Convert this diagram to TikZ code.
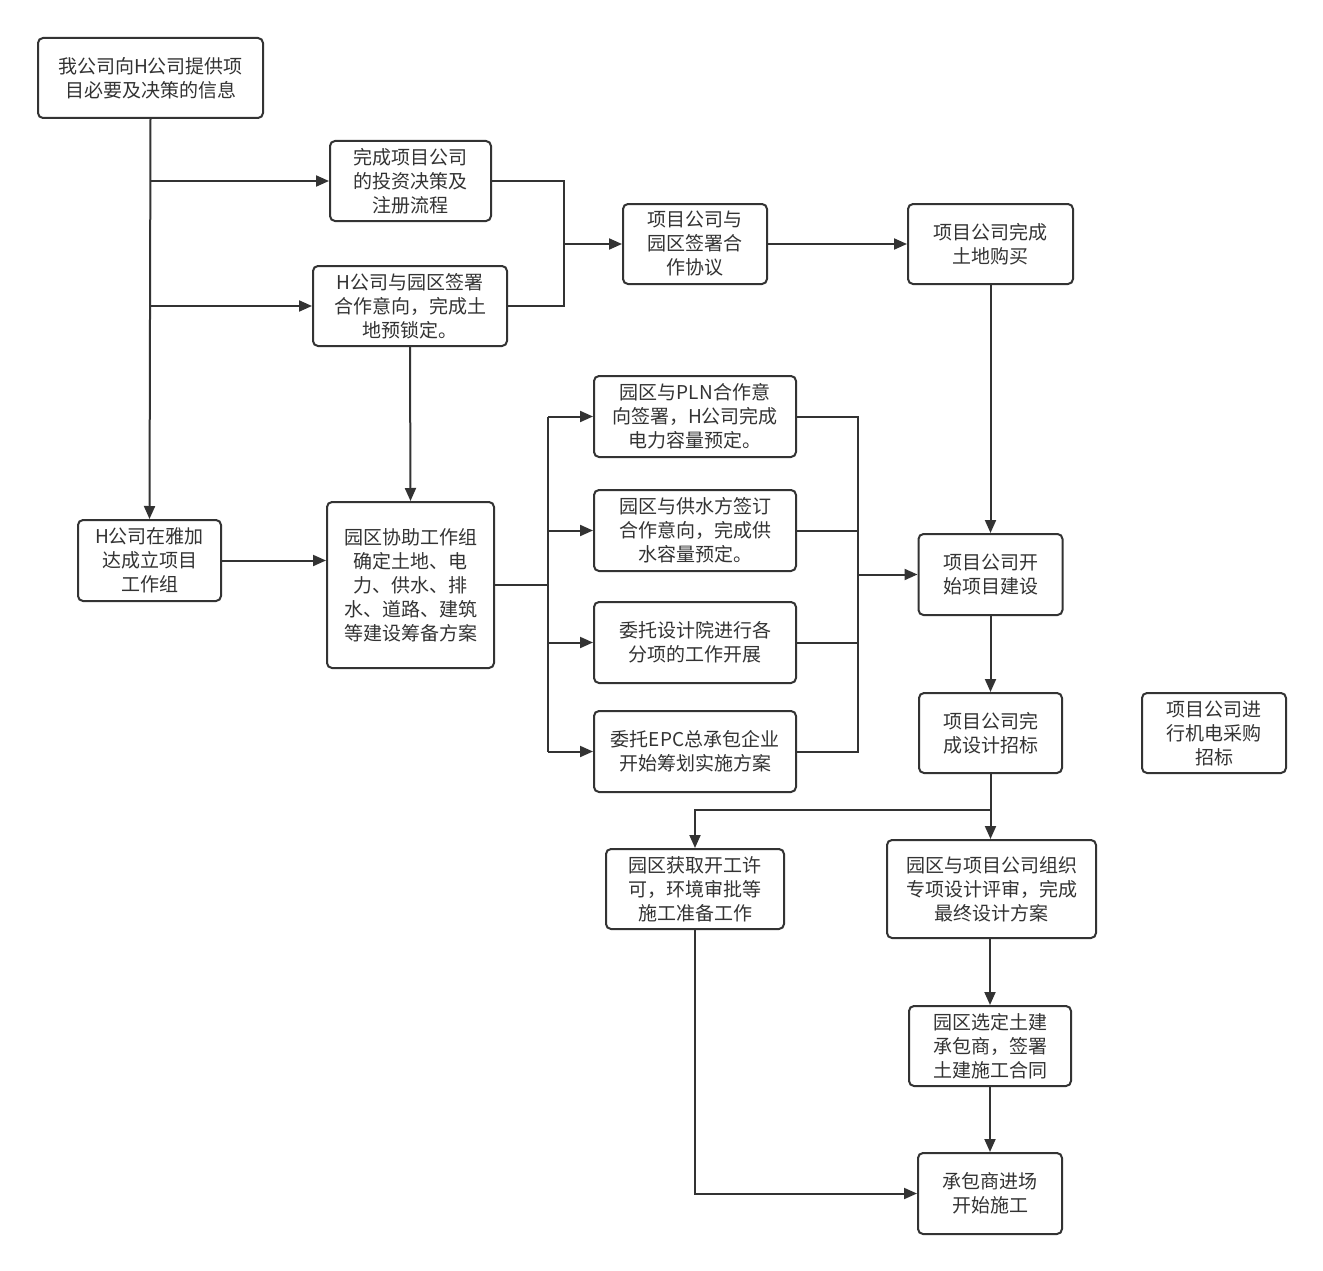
\documentclass[tikz,border=0pt]{standalone}
\usepackage{fontspec}
\newfontfamily\cjk{Noto Sans CJK SC}
\usetikzlibrary{arrows.meta}
\definecolor{ink}{HTML}{333333}
\tikzset{
  box/.style={draw=ink, line width=2pt, rounded corners=5pt, fill=white, align=center,
    text=ink, inner sep=0pt, font=\cjk\fontsize{19}{24}\selectfont},
  conn/.style={draw=ink, line width=2pt},
  arr/.style={conn, -{Triangle[length=13pt,width=11pt]}},
}
\begin{document}
\begin{tikzpicture}[x=1pt,y=-1pt]
\useasboundingbox (0,0) rectangle (1323,1271);
\fill[white] (0,0) rectangle (1323,1271);

\node[box, minimum width=225pt, minimum height=80pt] (b1) at (150.5,78) {我公司向H公司提供项\\目必要及决策的信息};
\node[box, minimum width=161pt, minimum height=80pt] (b2) at (410.5,181) {完成项目公司\\的投资决策及\\注册流程};
\node[box, minimum width=194pt, minimum height=80pt] (b3) at (410,306) {H公司与园区签署\\合作意向，完成土\\地预锁定。};
\node[box, minimum width=144pt, minimum height=80pt] (b4) at (695,244) {项目公司与\\园区签署合\\作协议};
\node[box, minimum width=165pt, minimum height=80pt] (b5) at (990.5,244) {项目公司完成\\土地购买};
\node[box, minimum width=143pt, minimum height=81pt] (b6) at (149.5,560.5) {H公司在雅加\\达成立项目\\工作组};
\node[box, minimum width=167pt, minimum height=166pt] (b7) at (410.5,585) {园区协助工作组\\确定土地、电\\力、供水、排\\水、道路、建筑\\等建设筹备方案};
\node[box, minimum width=202pt, minimum height=81pt] (b8) at (695,416.5) {园区与PLN合作意\\向签署，H公司完成\\电力容量预定。};
\node[box, minimum width=202pt, minimum height=81pt] (b9) at (695,530.5) {园区与供水方签订\\合作意向，完成供\\水容量预定。};
\node[box, minimum width=202pt, minimum height=81pt] (b10) at (695,642.5) {委托设计院进行各\\分项的工作开展};
\node[box, minimum width=202pt, minimum height=81pt] (b11) at (695,751.5) {委托EPC总承包企业\\开始筹划实施方案};
\node[box, minimum width=144pt, minimum height=81pt] (b12) at (990.5,574.5) {项目公司开\\始项目建设};
\node[box, minimum width=143pt, minimum height=80pt] (b13) at (990.5,733) {项目公司完\\成设计招标};
\node[box, minimum width=144pt, minimum height=80pt] (b14) at (1214,733) {项目公司进\\行机电采购\\招标};
\node[box, minimum width=178pt, minimum height=80pt] (b15) at (695,889) {园区获取开工许\\可，环境审批等\\施工准备工作};
\node[box, minimum width=209pt, minimum height=98pt] (b16) at (991.5,889) {园区与项目公司组织\\专项设计评审，完成\\最终设计方案};
\node[box, minimum width=162pt, minimum height=80pt] (b17) at (990,1046) {园区选定土建\\承包商，签署\\土建施工合同};
\node[box, minimum width=144pt, minimum height=81pt] (b18) at (990,1193.5) {承包商进场\\开始施工};

% left column
\coordinate (j1) at (150,181);
\coordinate (j2) at (150,306);
\draw[arr] (b1.south) -- (b6.north);
\draw[arr] (j1) -- (b2.west);
\draw[arr] (j2) -- (b3.west);

% merge to b4
\coordinate (m1) at (564,244);
\draw[conn] (b2.east) -| (m1);
\draw[conn] (b3.east) -| (m1);
\draw[arr] (m1) -- (b4.west);
\draw[arr] (b4.east) -- (b5.west);
\draw[arr] (b5.south) -- (b12.north);

\draw[arr] (b3.south) -- (b7.north);
\draw[arr] (b6.east) -- (b6.east -| b7.west);

% fan out
\coordinate (bL) at (548,585);
\draw[conn] (b7.east) -- (bL);
\draw[conn] (bL |- b8.west) -- (bL |- b11.west);
\foreach \n in {b8,b9,b10,b11} \draw[arr] (bL |- \n.west) -- (\n.west);

% fan in
\coordinate (bR) at (858,574.5);
\draw[conn] (b8.east) -- (b8.east -| bR) -- (b11.east -| bR) -- (b11.east);
\draw[conn] (b9.east) -- (b9.east -| bR);
\draw[conn] (b10.east) -- (b10.east -| bR);
\draw[arr] (bR) -- (b12.west);

\draw[arr] (b12.south) -- (b13.north);
\coordinate (j3) at (990.5,810);
\draw[conn] (b13.south) -- (j3);
\draw[arr] (j3) -| (b15.north);
\draw[arr] (j3) -- (b16.north -| j3);
\draw[arr] (b16.south -| b17.north) -- (b17.north);
\draw[arr] (b17.south) -- (b18.north);
\draw[arr] (b15.south) |- (b18.west);
\end{tikzpicture}
\end{document}
